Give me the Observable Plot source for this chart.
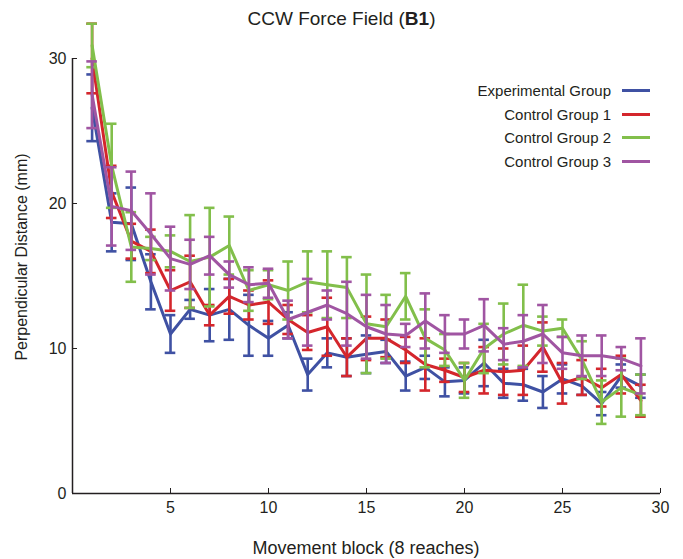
<!DOCTYPE html>
<html>
<head>
<meta charset="utf-8">
<script src="https://cdn.jsdelivr.net/npm/d3@7"></script>
<script src="https://cdn.jsdelivr.net/npm/@observablehq/plot@0.6"></script>
<style>
  html, body { margin: 0; padding: 0; background: #fff; }
  #wrap { position: relative; width: 683px; height: 559px; font-family: "Liberation Sans", Arial, sans-serif; color: #231f20; }
  #title { position: absolute; left: 0; width: 683px; top: 8px; text-align: center; font-size: 19px; font-family: "Liberation Sans", Arial, sans-serif; }
  #xlabel { position: absolute; left: 72px; width: 588px; top: 538px; text-align: center; font-size: 18px; }
  #ylabel { position: absolute; left: 22px; top: 257px; transform: translate(-50%, -50%) rotate(-90deg); white-space: nowrap; font-size: 16px; }
  #legend { position: absolute; right: 33px; top: 79px; font-size: 15px; }
  .row { display: flex; align-items: center; justify-content: flex-end; height: 23.6px; }
  .sw { width: 28px; height: 3px; margin-left: 11px; }
</style>
</head>
<body>
<div id="wrap">
  <div id="chart"></div>
  <div id="title">CCW Force Field (<b>B1</b>)</div>
  <div id="ylabel">Perpendicular Distance (mm)</div>
  <div id="xlabel">Movement block (8 reaches)</div>
  <div id="legend"></div>
</div>
<script>
const blocks = [1,2,3,4,5,6,7,8,9,10,11,12,13,14,15,16,17,18,19,20,21,22,23,24,25,26,27,28,29];

const groupNames = ["Experimental Group", "Control Group 1", "Control Group 2", "Control Group 3"];
const groupColors = ["#3f51a3", "#d4262c", "#82bf4b", "#a055a2"];

const expMean = [26.6,18.7,18.6,14.6,11.0,12.7,12.3,12.7,11.6,10.7,11.6,8.2,9.7,9.4,9.6,9.8,8.1,8.7,7.7,7.8,9.0,7.6,7.5,7.0,7.9,7.4,6.2,8.1,7.4];
const expErr  = [2.3,2.0,2.5,1.9,1.3,0.65,1.8,2.1,2.1,1.2,0.9,1.1,1.0,1.3,1.3,0.8,1.0,0.8,1.0,0.9,1.6,1.0,1.1,1.1,1.0,0.6,0.8,0.8,0.8];

const c1Mean = [30.0,20.8,17.4,16.7,14.0,14.6,12.3,13.6,13.0,13.2,12.0,11.1,11.5,9.4,10.7,10.7,9.9,8.9,8.5,8.0,8.5,8.4,8.5,10.1,7.6,8.0,7.3,8.2,6.4];
const c1Err  = [2.4,1.8,1.2,1.5,1.4,1.8,0.7,1.2,1.0,1.5,1.0,1.2,2.0,1.3,1.5,1.3,0.9,1.8,0.8,1.0,1.6,1.6,1.7,1.7,1.4,1.2,1.3,1.3,1.1];

const c2Mean = [30.9,22.6,17.0,16.9,16.7,16.0,16.3,17.1,14.0,14.4,14.0,14.6,14.4,14.2,11.7,11.5,13.6,10.7,9.9,7.8,10.0,11.0,11.6,11.2,11.4,9.2,6.3,7.3,6.8];
const c2Err  = [1.5,2.9,2.4,0.8,1.1,3.2,3.4,2.0,1.4,1.0,2.0,2.1,2.3,2.1,3.4,2.2,1.6,2.0,1.1,1.2,1.7,2.1,2.8,1.0,0.6,1.3,1.5,2.0,1.4];

const c3Mean = [27.5,19.8,19.5,17.9,16.2,15.8,16.4,15.1,14.4,14.5,12.0,12.5,13.0,12.4,11.5,11.0,10.9,11.9,11.0,11.0,11.6,10.3,10.5,11.0,9.7,9.5,9.5,9.3,8.8];
const c3Err  = [2.3,2.7,2.7,2.8,2.2,1.7,1.3,0.9,1.2,1.0,1.3,2.3,1.0,2.2,2.2,2.0,0.8,1.9,1.3,1.0,1.8,1.1,1.8,2.0,1.1,1.4,1.4,0.8,1.9];

const xTicks = [5,10,15,20,25,30];
const yTicks = [0,10,20,30];

const means = [expMean, c1Mean, c2Mean, c3Mean];
const errs = [expErr, c1Err, c2Err, c3Err];

const seriesMarks = [];
groupNames.forEach((name, gi) => {
  const rows = blocks.map((b, i) => ({block: b, mean: means[gi][i], err: errs[gi][i]}));
  const col = groupColors[gi];
  seriesMarks.push(
    Plot.ruleX(rows, {x: "block", y1: d => d.mean - d.err, y2: d => d.mean + d.err, stroke: col, strokeWidth: 2.6, clip: false}),
    Plot.ruleY(rows, {y: d => d.mean + d.err, x1: d => d.block - 0.27, x2: d => d.block + 0.27, stroke: col, strokeWidth: 2.6, clip: false}),
    Plot.ruleY(rows, {y: d => d.mean - d.err, x1: d => d.block - 0.27, x2: d => d.block + 0.27, stroke: col, strokeWidth: 2.6, clip: false}),
    Plot.line(rows, {x: "block", y: "mean", stroke: col, strokeWidth: 3, clip: false})
  );
});

const chart = Plot.plot({
  width: 683,
  height: 559,
  marginLeft: 72,
  marginRight: 23,
  marginTop: 58,
  marginBottom: 66,
  style: {fontFamily: "'Liberation Sans', Arial, sans-serif", fontSize: "16px", background: "#fff", color: "#231f20", overflow: "visible"},
  x: {domain: [0, 30], ticks: xTicks},
  y: {domain: [0, 30], ticks: yTicks},
  marks: [
    Plot.axisX({ticks: xTicks, tickSize: -5, tickPadding: 13, label: null, stroke: "#231f20", fill: "#231f20", fontSize: 16}),
    Plot.axisY({ticks: yTicks, tickSize: -5, tickPadding: 11, label: null, stroke: "#231f20", fill: "#231f20", fontSize: 16}),
    Plot.ruleX([0], {y1: 0, y2: 30, stroke: "#231f20", strokeWidth: 1.5}),
    Plot.ruleY([0], {x1: 0, x2: 30, stroke: "#231f20", strokeWidth: 1.5}),
    ...seriesMarks
  ]
});
document.getElementById("chart").appendChild(chart);

const legend = document.getElementById("legend");
groupNames.forEach((name, gi) => {
  const row = document.createElement("div");
  row.className = "row";
  const t = document.createElement("span");
  t.textContent = name;
  const sw = document.createElement("span");
  sw.className = "sw";
  sw.style.background = groupColors[gi];
  row.appendChild(t);
  row.appendChild(sw);
  legend.appendChild(row);
});
</script>
</body>
</html>
